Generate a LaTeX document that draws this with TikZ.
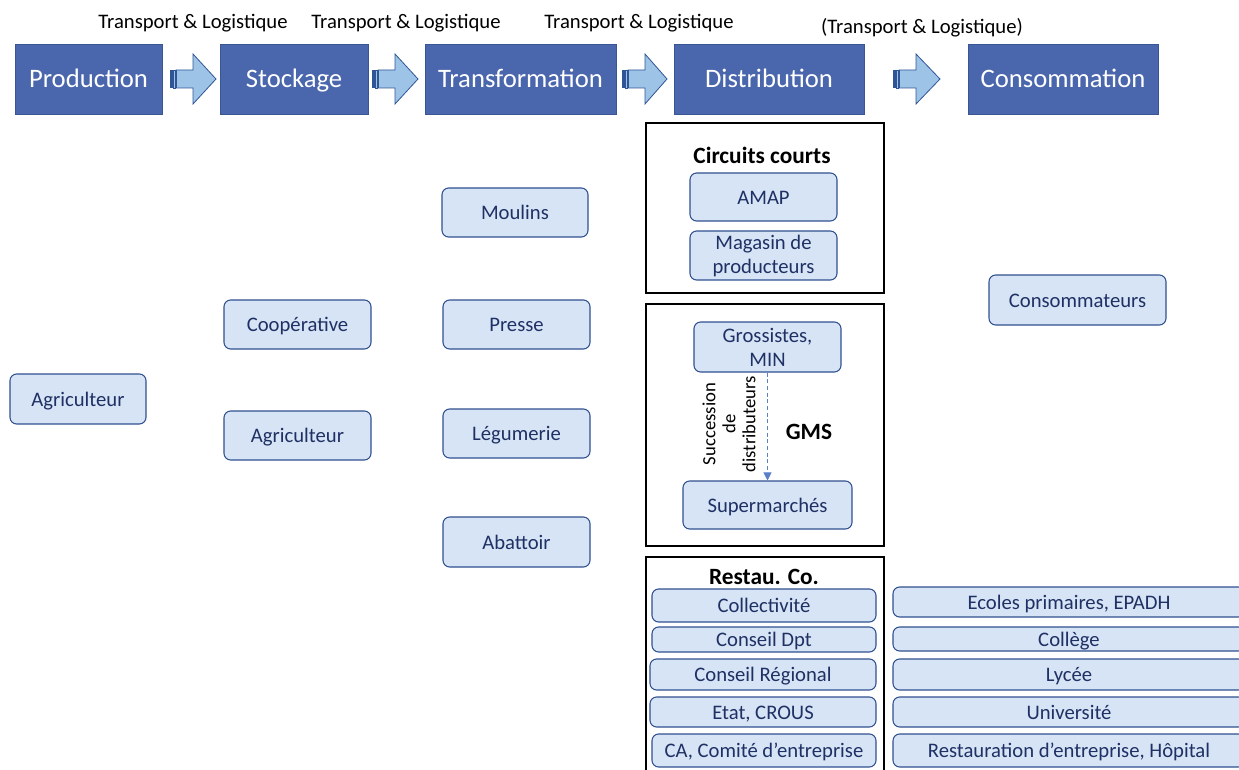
\documentclass[tikz,border=0pt]{standalone}
\usepackage{fontspec}
\setmainfont{Carlito}
\usetikzlibrary{arrows.meta}
\definecolor{hdr}{HTML}{4A66AC}
\definecolor{hdrline}{HTML}{3A5594}
\definecolor{lbfill}{HTML}{D6E4F5}
\definecolor{lbline}{HTML}{2F4F8F}
\definecolor{lbtext}{HTML}{1F3064}
\definecolor{arrfill}{HTML}{9DC3E6}
\definecolor{arrline}{HTML}{2F5597}
\definecolor{dashc}{HTML}{5B7FC8}
\tikzset{
  hdrbox/.style={draw=hdrline, fill=hdr, text=white, font=\fontsize{20}{22}\selectfont, inner sep=0pt, text height=17.2pt, text depth=4.4pt},
  lbase/.style={draw=lbline, fill=lbfill, text=lbtext, rounded corners=5pt, line width=0.8pt, inner sep=0pt, align=center, font=\fontsize{15.5}{18}\selectfont},
  lb/.style={lbase, text height=14pt, text depth=3.1pt},
  lbm/.style={lbase},
  grp/.style={draw=black, line width=0.9pt},
  tl/.style={font=\fontsize{15.5}{17}\selectfont, text=black},
  ttl/.style={font=\bfseries\fontsize{17.5}{19}\selectfont, text=black},
  barrow/.style={draw=arrline, fill=arrfill, line width=0.6pt},
}
\newcommand{\bx}[7]{\node[#1, minimum width={(#5-#3)*0.75pt}, minimum height={(#6-#4)*0.75pt}] (#2) at ({(#3+#5)/2},{(#4+#6)/2}) {#7};}
% striped arrow: x0, x1 (tip), ymid
\newcommand{\sarrow}[3]{%
  \fill[arrline] (#1,#3-9) rectangle (#1+3,#3+9);
  \draw[barrow] (#1+3,#3-9) rectangle (#1+5,#3+9);
  \draw[barrow] (#1+6,#3-9) -- (#1+23,#3-9) -- (#1+23,#3-25) -- (#2,#3) -- (#1+23,#3+25) -- (#1+23,#3+9) -- (#1+6,#3+9) -- cycle;
  \fill[arrline] (#1+5,#3-9) rectangle (#1+6.5,#3+9);
}
\begin{document}
\begin{tikzpicture}[x=0.75pt, y=-0.75pt]
\useasboundingbox (0,0) rectangle (1239,770);
\clip (0,0) rectangle (1239,770);
% header boxes
\bx{hdrbox}{prod}{15}{44}{162}{114}{Production}
\bx{hdrbox}{stock}{220}{44}{368}{114}{Stockage}
\bx{hdrbox}{transf}{425}{44}{616}{114}{Transformation}
\bx{hdrbox}{distr}{674}{44}{864}{114}{Distribution}
\bx{hdrbox}{conso}{968}{44}{1158}{114}{Consommation}
% block arrows
\sarrow{170}{216}{79}
\sarrow{372}{418}{79}
\sarrow{622}{667}{79}
\sarrow{893}{940}{79}
% transport labels
\node[tl] (t1) at (193,23) {Transport \& Logistique};
\node[tl] (t2) at (406,23) {Transport \& Logistique};
\node[tl] (t3) at (639,23) {Transport \& Logistique};
\node[tl] (t4) at (922,28) {(Transport \& Logistique)};
% production / stockage / transformation
\bx{lb}{agri1}{10}{374}{146}{424}{Agriculteur}
\bx{lb}{coop}{224}{300}{371}{349}{Coopérative}
\bx{lb}{agri2}{224}{411}{371}{460}{Agriculteur}
\bx{lb}{moul}{442}{188}{588}{237}{Moulins}
\bx{lb}{pres}{443}{300}{590}{349}{Presse}
\bx{lb}{legu}{443}{409}{590}{458}{Légumerie}
\bx{lb}{abat}{443}{517}{590}{567}{Abattoir}
% circuits courts
\draw[grp] (646,123) rectangle (884,293);
\node[ttl] (cc) at (762,155) {Circuits courts};
\bx{lb}{amap}{690}{173}{837}{221}{AMAP}
\bx{lbm}{maga}{690}{231}{837}{280}{Magasin de\\producteurs}
% GMS
\draw[grp] (646,304) rectangle (884,546);
\bx{lbm}{gros}{694}{322}{841}{372}{Grossistes,\\MIN}
\bx{lb}{super}{683}{481}{852}{529}{Supermarchés}
\draw[densely dashed, draw=dashc, line width=0.6pt, -{Triangle[length=6pt,width=6pt]}] (gros.south) -- (super.north);
\node[ttl] (gms) at (809,432) {GMS};
\node[rotate=90, align=center, font=\fontsize{14}{15}\selectfont] (succ) at (729,424) {Succession\\de\\distributeurs};
% Restau Co
\draw[grp] (646,780) -- (646,557) -- (884,557) -- (884,780);
\node[ttl] (rc) at (764,577) {Restau. Co.};
\bx{lb}{coll}{652}{589}{876}{622}{Collectivité}
\bx{lb}{cdpt}{652}{627}{876}{652}{Conseil Dpt}
\bx{lb}{creg}{650}{659}{876}{690}{Conseil Régional}
\bx{lb}{etat}{650}{697}{876}{727}{Etat, CROUS}
\bx{lb}{ca}{652}{734}{876}{767}{CA, Comité d’entreprise}
% consumers
\bx{lb}{consm}{989}{275}{1166}{325}{Consommateurs}
\bx{lb}{ecol}{893}{587}{1245}{617}{Ecoles primaires, EPADH}
\bx{lb}{colg}{893}{627}{1245}{651}{Collège}
\bx{lb}{lyc}{893}{659}{1245}{690}{Lycée}
\bx{lb}{univ}{893}{697}{1245}{727}{Université}
\bx{lb}{rest}{893}{734}{1245}{767}{Restauration d’entreprise, Hôpital}
\end{tikzpicture}
\end{document}
